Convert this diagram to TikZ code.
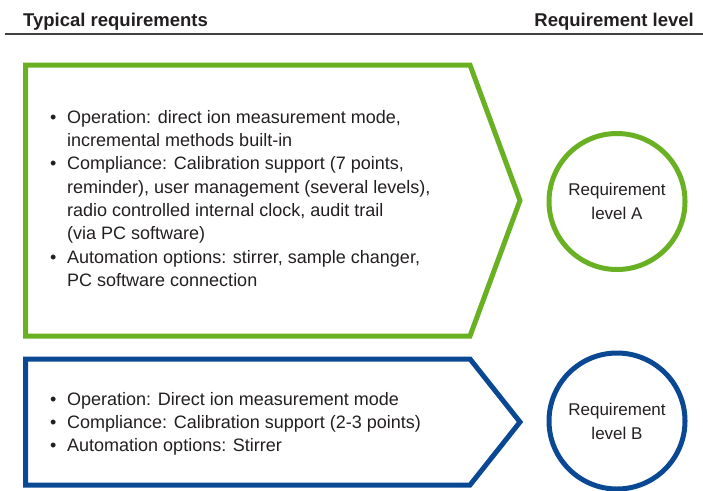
\documentclass[tikz,border=0pt]{standalone}
\usepackage{fontspec}
\setmainfont{Liberation Sans}
\usetikzlibrary{positioning}
\definecolor{levelA}{RGB}{106,176,35}
\definecolor{levelB}{RGB}{10,72,148}
\definecolor{ink}{RGB}{35,31,32}
\tikzset{
  chevron/.style = {line width=5pt, line join=miter},
  level/.style = {circle, draw=#1, line width=5pt, minimum size=136pt,
    align=center, text=ink, font=\fontsize{17}{24}\selectfont},
  bullets/.style = {anchor=west, align=left, inner sep=0pt,
    text=ink, font=\fontsize{18}{23.3}\selectfont},
  heading/.style = {inner sep=0pt, text=ink,
    font=\bfseries\fontsize{18.5}{22}\selectfont}
}
\newcommand{\bul}{\makebox[17pt][l]{\textbullet}}
\newcommand{\cont}{\hspace*{17pt}}

\begin{document}
\begin{tikzpicture}[x=1pt,y=-1pt]
  \useasboundingbox (0,0) rectangle (703,490);
  % column heads
  \node[heading, anchor=base west] (typical) at (23,26) {Typical requirements};
  \node[heading, anchor=base east] (levels) at (694,26) {Requirement level};
  \draw[line width=1.4pt, ink!85] (5,34) -- (703,34);
  % level A
  \draw[chevron, levelA] (25.5,65) -- (470,65) -- (520,200.5) -- (470,336) -- (25.5,336) -- cycle;
  \node[bullets] (listA) at (50,198.5) {%
    \bul Operation: direct ion measurement mode,\\
    \cont incremental methods built-in\\
    \bul Compliance: Calibration support (7 points,\\
    \cont reminder), user management (several levels),\\
    \cont radio controlled internal clock, audit trail\\
    \cont (via PC software)\\
    \bul Automation options: stirrer, sample changer,\\
    \cont PC software connection};
  \node[level=levelA] (reqA) at (617,201.5) {Requirement\\level A};
  % level B
  \draw[chevron, levelB] (25.5,359) -- (470,359) -- (520,422) -- (470,485) -- (25.5,485) -- cycle;
  \node[bullets] (listB) at (50,424) {%
    \bul Operation: Direct ion measurement mode\\
    \bul Compliance: Calibration support (2-3 points)\\
    \bul Automation options: Stirrer};
  \node[level=levelB] (reqB) at (617,421) {Requirement\\level B};
\end{tikzpicture}
\end{document}
